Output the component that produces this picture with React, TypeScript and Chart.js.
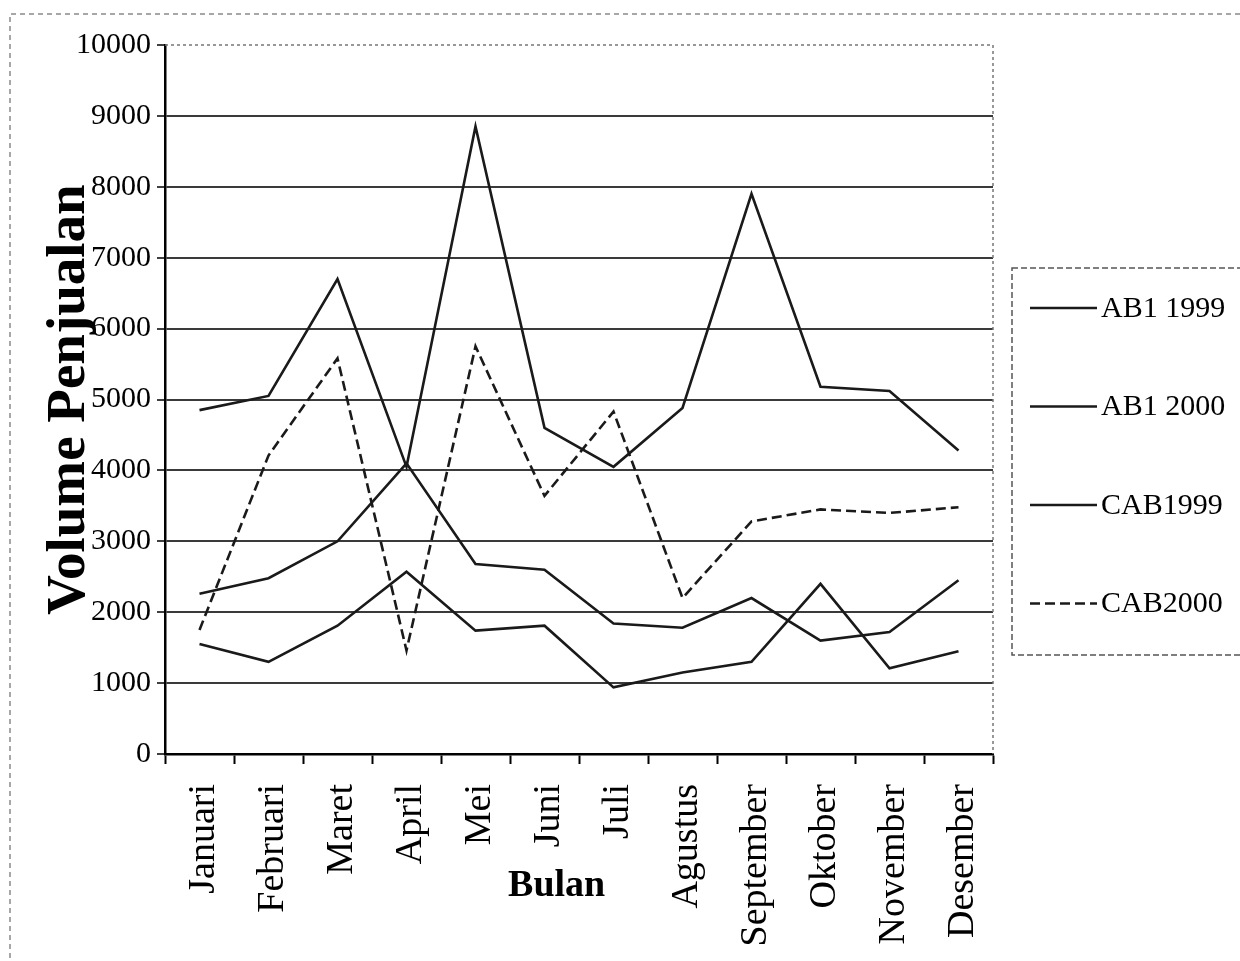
import React, { useEffect, useRef } from 'react';
import { Chart, registerables } from 'chart.js';

Chart.register(...registerables);

const months = ['Januari', 'Februari', 'Maret', 'April', 'Mei', 'Juni', 'Juli', 'Agustus', 'September', 'Oktober', 'November', 'Desember'];
const seriesNames = ['AB1 1999', 'AB1 2000', 'CAB1999', 'CAB2000'];
const ab1_1999 = [4850, 5050, 6700, 4050, 8850, 4600, 4050, 4880, 7900, 5180, 5120, 4280];
const ab1_2000 = [1550, 1300, 1810, 2570, 1740, 1810, 940, 1150, 1300, 2400, 1210, 1450];
const cab1999 = [2260, 2480, 3000, 4100, 2680, 2600, 1840, 1780, 2200, 1600, 1720, 2450];
const cab2000 = [1750, 4210, 5580, 1460, 5750, 3640, 4830, 2200, 3280, 3450, 3400, 3480];
const yMin = 0;
const yMax = 10000;
const yStep = 1000;
const yTitle = 'Volume Penjualan';
const xTitle = 'Bulan';

const SERIF = "'Liberation Serif', 'Times New Roman', serif";

const decorPlugin = {
  id: 'decor',
  beforeDraw(chart: any) {
    const ctx = chart.ctx;
    ctx.save();
    ctx.fillStyle = '#ffffff';
    ctx.fillRect(0, 0, chart.width, chart.height);
    ctx.strokeStyle = '#8a8a8a';
    ctx.lineWidth = 1.5;
    ctx.setLineDash([5, 4]);
    ctx.beginPath();
    ctx.moveTo(10, 958);
    ctx.lineTo(10, 14);
    ctx.lineTo(1240, 14);
    ctx.stroke();
    ctx.restore();
  },
  afterDraw(chart: any) {
    const ctx = chart.ctx;
    const a = chart.chartArea;
    ctx.save();
    ctx.strokeStyle = '#777';
    ctx.lineWidth = 1.5;
    ctx.setLineDash([3, 3]);
    ctx.beginPath();
    ctx.moveTo(a.left, a.top);
    ctx.lineTo(a.right, a.top);
    ctx.lineTo(a.right, a.bottom);
    ctx.stroke();

    ctx.setLineDash([]);
    ctx.fillStyle = '#000';
    ctx.font = `bold 38px ${SERIF}`;
    ctx.textAlign = 'center';
    ctx.textBaseline = 'middle';
    ctx.fillText(xTitle, a.left + (a.right - a.left) * 0.473, a.bottom + 132);

    const lx = 1012, ly = 268, lw = 240, lh = 387;
    ctx.strokeStyle = '#555';
    ctx.lineWidth = 1.5;
    ctx.setLineDash([6, 3]);
    ctx.strokeRect(lx, ly, lw, lh);
    const ds = chart.data.datasets;
    ctx.font = `30px ${SERIF}`;
    ctx.textAlign = 'left';
    for (let i = 0; i < ds.length; i++) {
      const y = 308 + i * 98.5;
      ctx.strokeStyle = ds[i].borderColor;
      ctx.lineWidth = 2.5;
      ctx.setLineDash(ds[i].borderDash || []);
      ctx.beginPath();
      ctx.moveTo(1030, y);
      ctx.lineTo(1097, y);
      ctx.stroke();
      ctx.fillStyle = '#000';
      ctx.fillText(ds[i].label, 1101, y + 1);
    }
    ctx.restore();
  },
};

export default function App() {
  const ref = useRef<HTMLCanvasElement>(null);
  useEffect(() => {
    document.body.style.margin = '0';
    const lineColor = '#1a1a1a';
    const mk = (label: string, data: number[], dash?: number[]) => ({
      label,
      data,
      borderColor: lineColor,
      backgroundColor: lineColor,
      borderWidth: 2.6,
      borderDash: dash || [],
      pointRadius: 0,
      tension: 0,
      fill: false,
    });
    const chart = new Chart(ref.current as HTMLCanvasElement, {
      type: 'line',
      data: {
        labels: months,
        datasets: [
          mk(seriesNames[0], ab1_1999),
          mk(seriesNames[1], ab1_2000),
          mk(seriesNames[2], cab1999),
          mk(seriesNames[3], cab2000, [10, 5]),
        ],
      },
      options: {
        responsive: false,
        animation: false,
        devicePixelRatio: 1,
        layout: { padding: { left: 10, right: 247, top: 45, bottom: 0 } },
        plugins: {
          legend: { display: false },
          tooltip: { enabled: false },
          title: { display: false },
        },
        scales: {
          x: {
            type: 'category',
            offset: true,
            grid: {
              offset: true,
              drawOnChartArea: false,
              drawTicks: true,
              tickLength: 10,
              tickColor: '#000',
              tickWidth: 2,
            },
            border: { display: true, color: '#000', width: 2.5 },
            ticks: {
              autoSkip: false,
              minRotation: 90,
              maxRotation: 90,
              padding: 20,
              labelOffset: 5,
              color: '#000',
              font: { family: SERIF, size: 38 },
            },
            afterFit: (s: any) => {
              s.height = 207;
            },
          },
          y: {
            min: yMin,
            max: yMax,
            grid: {
              color: (c: any) => (c.tick && c.tick.value === yMax ? 'rgba(0,0,0,0)' : '#3a3a3a'),
              lineWidth: 2,
              tickLength: 8,
              tickColor: '#000',
              tickWidth: 1.5,
            },
            border: { display: true, color: '#000', width: 2.5 },
            ticks: {
              stepSize: yStep,
              padding: 6,
              color: '#000',
              font: { family: SERIF, size: 30 },
              callback: (v: any) => String(v),
            },
            title: {
              display: true,
              text: yTitle,
              color: '#000',
              font: { family: SERIF, size: 55, weight: 'bold' },
              padding: { top: 27, bottom: 0 },
            },
            afterFit: (s: any) => {
              s.width = 155;
            },
          },
        },
      },
      plugins: [decorPlugin],
    } as any);
    return () => chart.destroy();
  }, []);
  return (
    <div style={{ position: 'absolute', left: 0, top: 0, width: 1240, height: 961, background: '#fff' }}>
      <canvas ref={ref} width={1240} height={961} style={{ width: 1240, height: 961, display: 'block' }} />
    </div>
  );
}
